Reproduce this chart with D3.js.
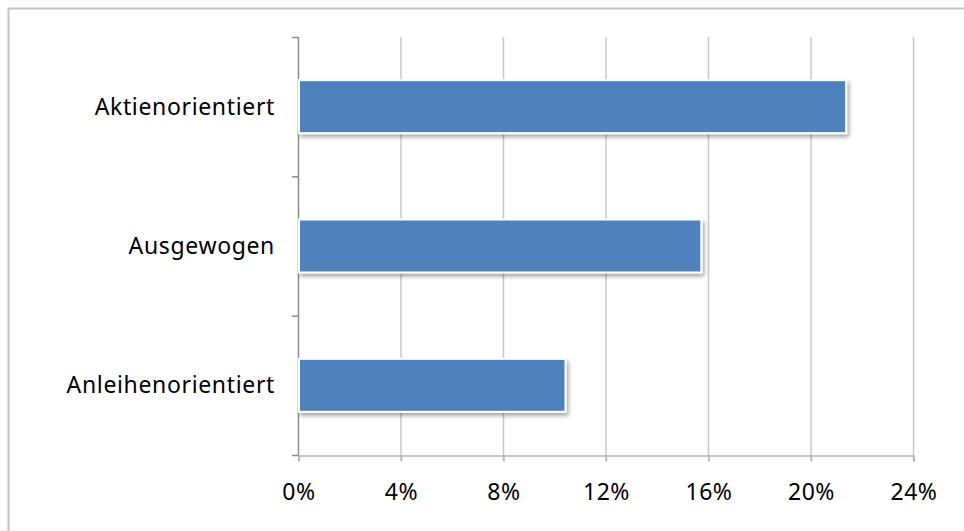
<!DOCTYPE html>
<html>
<head>
<meta charset="utf-8">
<script src="https://cdn.jsdelivr.net/npm/d3@7"></script>
<style>
    body { margin: 0; background: #fff; }
    #chart text { font-family: "Noto Sans", sans-serif; fill: #000; }
</style>
</head>
<body>
<div id="chart"></div>
<script>
"use strict";

// Data
const categories = ["Aktienorientiert", "Ausgewogen", "Anleihenorientiert"];
const values = [21.35, 15.7, 10.4];
const tickValues = [0, 4, 8, 12, 16, 20, 24];

const width = 964, height = 531;
const margin = { left: 298, right: 51, top: 37, bottom: 76 };

const svg = d3.select("#chart")
    .append("svg")
    .attr("width", width)
    .attr("height", height);

// Drop shadow for bars
const defs = svg.append("defs");
const shadow = defs.append("filter")
    .attr("id", "shadow")
    .attr("x", "-10%").attr("y", "-10%")
    .attr("width", "130%").attr("height", "140%");
shadow.append("feGaussianBlur").attr("in", "SourceAlpha").attr("stdDeviation", 2);
shadow.append("feOffset").attr("dx", 2).attr("dy", 3).attr("result", "blur");
shadow.append("feComponentTransfer").append("feFuncA").attr("type", "linear").attr("slope", 0.35);
const merge = shadow.append("feMerge");
merge.append("feMergeNode");
merge.append("feMergeNode").attr("in", "SourceGraphic");

// Outer frame
svg.append("rect")
    .attr("x", 8.5).attr("y", 8.5)
    .attr("width", width).attr("height", height)
    .attr("fill", "none")
    .attr("stroke", "#c4c4c4")
    .attr("stroke-width", 2);

const x = d3.scaleLinear()
    .domain([0, 24])
    .range([margin.left, width - margin.right]);

const y = d3.scaleBand()
    .domain(categories)
    .range([margin.top, height - margin.bottom])
    .paddingInner(0.62)
    .paddingOuter(0.31);

// Vertical gridlines
svg.append("g")
    .selectAll("line")
    .data(tickValues.slice(1))
    .join("line")
    .attr("x1", d => x(d) + 0.5).attr("x2", d => x(d) + 0.5)
    .attr("y1", margin.top).attr("y2", height - margin.bottom + 6)
    .attr("stroke", "#c8c8c8")
    .attr("stroke-width", 1.5);

// X axis
const xAxis = svg.append("g")
    .attr("transform", `translate(0.5,${height - margin.bottom + 0.5})`)
    .call(d3.axisBottom(x).tickValues(tickValues).tickFormat(d => d + "%").tickSize(6).tickPadding(22));
xAxis.select(".domain").attr("stroke", "#b4b4b4").attr("stroke-width", 1.5);
xAxis.selectAll(".tick line").attr("stroke", "#b4b4b4").attr("stroke-width", 1.5);
xAxis.selectAll("text").style("font-size", "23px").style("letter-spacing", "0.5px");

// Y axis with category ticks between bands
const boundaries = d3.range(categories.length + 1).map(i => margin.top + i * (height - margin.top - margin.bottom) / categories.length);
svg.append("line")
    .attr("x1", margin.left + 0.5).attr("x2", margin.left + 0.5)
    .attr("y1", margin.top).attr("y2", height - margin.bottom)
    .attr("stroke", "#8c8c8c").attr("stroke-width", 1.5);
svg.append("g")
    .selectAll("line")
    .data(boundaries)
    .join("line")
    .attr("x1", margin.left - 6).attr("x2", margin.left + 0.5)
    .attr("y1", d => d + 0.5).attr("y2", d => d + 0.5)
    .attr("stroke", "#8c8c8c").attr("stroke-width", 1.5);

svg.append("g")
    .selectAll("text")
    .data(categories)
    .join("text")
    .attr("x", margin.left - 23)
    .attr("y", d => y(d) + y.bandwidth() / 2)
    .attr("dy", "0.35em")
    .attr("text-anchor", "end")
    .style("font-size", "23px")
    .style("letter-spacing", "0.65px")
    .text(d => d);

// Bars
svg.append("g")
    .selectAll("rect")
    .data(categories)
    .join("rect")
    .attr("x", x(0) + 1)
    .attr("y", d => y(d))
    .attr("width", (d, i) => x(values[i]) - x(0))
    .attr("height", y.bandwidth())
    .attr("fill", "#4f81bd")
    .attr("stroke", "#ffffff")
    .attr("stroke-width", 2)
    .attr("filter", "url(#shadow)");
</script>
</body>
</html>
